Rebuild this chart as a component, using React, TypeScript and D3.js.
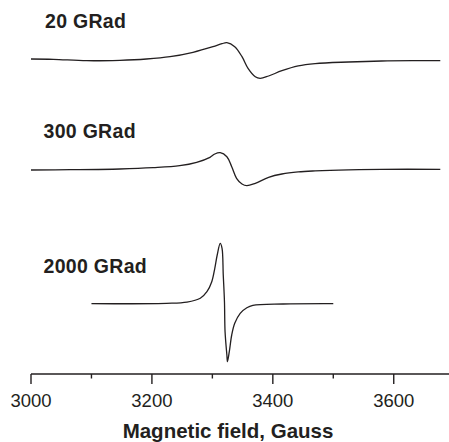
import React from "react";
import * as d3 from "d3";

// Magnetic field (Gauss) and EPR derivative signal (arbitrary units) for each dose
const field20 = [3000, 3037, 3092, 3147, 3191, 3230, 3268, 3301, 3316, 3324, 3337, 3349, 3359, 3371, 3379, 3393, 3415, 3442, 3470, 3525, 3580, 3635, 3677];
const signal20 = [1, 0.7, -0.7, -0.3, 1, 3.3, 7.7, 13.3, 16.3, 17.3, 13.3, 3.3, -8.3, -16.7, -18.3, -16, -10.7, -5.9, -3.6, -2, -1, -0.7, -0.7];

const field300 = [3000, 3065, 3147, 3202, 3246, 3274, 3296, 3304, 3313, 3324, 3332, 3340, 3349, 3357, 3371, 3393, 3415, 3442, 3470, 3525, 3580, 3677];
const signal300 = [0, 0.3, 1, 2.3, 4.3, 7.7, 12.7, 16, 17.3, 13.3, 3.3, -8.3, -14, -15.7, -13.3, -7.3, -4, -1.9, -0.9, 0.2, 0.7, 0.7];

const field2000 = [3100, 3224, 3258, 3280, 3291, 3299, 3304, 3308, 3313, 3316, 3318, 3320, 3321, 3324, 3325, 3328, 3332, 3337, 3346, 3357, 3367, 3417, 3500];
const signal2000 = [0, 0.4, 1.6, 5.4, 12, 22, 35.4, 48.7, 60.4, 55.4, 28.7, 2, -28, -51.3, -58, -48, -31.3, -19.6, -9.6, -4, -1.6, -0.3, 0];

const doseLabels = ["20 GRad", "300 GRad", "2000 GRad"];
const traceOffsets = [382, 272, 138.3];

const majorTicks = [3000, 3200, 3400, 3600];
const minorTicks = [3100, 3300, 3500];
const xTitle = "Magnetic field, Gauss";

const W = 449;
const H = 442;

export default function App() {
  const x = d3.scaleLinear().domain([3000, 3700]).range([31, 454.2]);
  const y = d3.scaleLinear().domain([0, H]).range([H, 0]);

  const series = [
    { f: field20, s: signal20 },
    { f: field300, s: signal300 },
    { f: field2000, s: signal2000 },
  ];

  const labelPos = [
    { x: 45, y: 27.7 },
    { x: 43.5, y: 138.3 },
    { x: 43.5, y: 272.7 },
  ];

  const axisY = 374;
  const color = "#231f20";

  return (
    <svg
      width={W}
      height={H}
      style={{ position: "absolute", left: 0, top: 0, background: "#fff" }}
      fontFamily="'Liberation Sans', Arial, Helvetica, sans-serif"
    >
      <rect width={W} height={H} fill="#fff" />
      {series.map((d, i) => {
        const pts = d.f.map((f, k) => [f, d.s[k] + traceOffsets[i]] as [number, number]);
        const line = d3
          .line<[number, number]>()
          .x((p) => x(p[0]))
          .y((p) => y(p[1]))
          .curve(d3.curveCatmullRom.alpha(0.5));
        return (
          <path key={i} d={line(pts) || ""} fill="none" stroke={color} strokeWidth={1.3} />
        );
      })}
      {doseLabels.map((t, i) => (
        <text
          key={t}
          x={labelPos[i].x}
          y={labelPos[i].y}
          fontSize={19.5}
          fontWeight="bold"
          letterSpacing={0.3}
          fill={color}
        >
          {t}
        </text>
      ))}
      <line x1={x(3000)} x2={W} y1={axisY} y2={axisY} stroke={color} strokeWidth={1.4} />
      {majorTicks.map((t) => (
        <g key={t}>
          <line x1={x(t)} x2={x(t)} y1={axisY} y2={axisY + 10} stroke={color} strokeWidth={1.4} />
          <text x={x(t)} y={406.5} fontSize={18.5} textAnchor="middle" fill={color}>
            {t}
          </text>
        </g>
      ))}
      {minorTicks.map((t) => (
        <line key={t} x1={x(t)} x2={x(t)} y1={axisY} y2={axisY + 4.5} stroke={color} strokeWidth={1.4} />
      ))}
      <text x={228} y={438.3} fontSize={20.5} fontWeight="bold" textAnchor="middle" fill={color}>
        {xTitle}
      </text>
    </svg>
  );
}
